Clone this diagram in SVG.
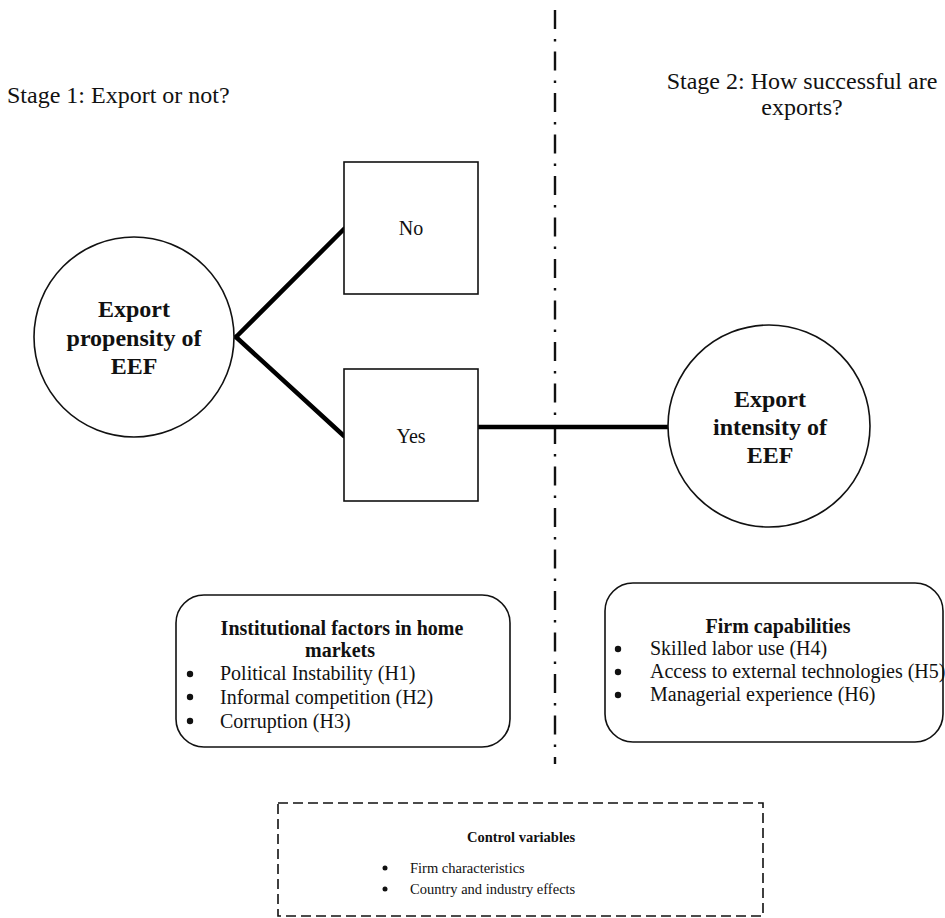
<svg xmlns="http://www.w3.org/2000/svg" width="945" height="918" viewBox="0 0 945 918">
<style>
text{font-family:"Liberation Serif","Times New Roman",serif;fill:#111}
.b{font-weight:bold}
.n{fill:#fff;stroke:#111;stroke-width:1.6}
.c{stroke:#000;stroke-width:4.5;fill:none;stroke-linecap:round}
.m{text-anchor:middle}
.dot{fill:#111}
</style>
<rect width="945" height="918" fill="#fff"/>
<line x1="555" y1="10" x2="555" y2="764" stroke="#111" stroke-width="2.4" stroke-dasharray="19 10 2.5 10"/>
<text x="7" y="103" font-size="24">Stage 1: Export or not?</text>
<text x="802" y="89" font-size="24" class="m">Stage 2: How successful are</text>
<text x="802" y="115" font-size="24" class="m">exports?</text>
<g id="connectors">
<line class="c" x1="236" y1="337" x2="344" y2="229"/>
<line class="c" x1="236" y1="337" x2="344" y2="436"/>
<line class="c" x1="478" y1="427" x2="668" y2="427"/>
</g>
<g id="propensity">
<circle class="n" cx="134" cy="337" r="100"/>
<text x="134" y="317" font-size="24" class="b m">Export</text>
<text x="134" y="346" font-size="24" class="b m">propensity of</text>
<text x="134" y="374" font-size="24" class="b m">EEF</text>
</g>
<g id="no">
<rect class="n" x="344" y="162" width="134" height="132"/>
<text x="411" y="235" font-size="20" class="m">No</text>
</g>
<g id="yes">
<rect class="n" x="344" y="369" width="134" height="132"/>
<text x="411" y="443" font-size="20" class="m">Yes</text>
</g>
<g id="intensity">
<circle class="n" cx="769" cy="426" r="101"/>
<text x="770" y="407" font-size="24" class="b m">Export</text>
<text x="770" y="435" font-size="24" class="b m">intensity of</text>
<text x="770" y="463" font-size="24" class="b m">EEF</text>
</g>
<g id="institutional">
<rect class="n" x="176" y="595" width="334" height="152" rx="28"/>
<text x="342" y="635" font-size="20" class="b m">Institutional factors in home</text>
<text x="340" y="657" font-size="20" class="b m">markets</text>
<circle class="dot" cx="190" cy="674" r="3.2"/>
<circle class="dot" cx="190" cy="697" r="3.2"/>
<circle class="dot" cx="190" cy="721" r="3.2"/>
<text x="220" y="680" font-size="20">Political Instability (H1)</text>
<text x="220" y="704" font-size="20">Informal competition (H2)</text>
<text x="220" y="728" font-size="20">Corruption (H3)</text>
</g>
<g id="capabilities">
<rect class="n" x="605" y="583" width="338" height="159" rx="28"/>
<text x="778" y="633" font-size="20" class="b m">Firm capabilities</text>
<circle class="dot" cx="618" cy="649" r="3.2"/>
<circle class="dot" cx="618" cy="672" r="3.2"/>
<circle class="dot" cx="618" cy="695" r="3.2"/>
<text x="650" y="655" font-size="20">Skilled labor use (H4)</text>
<text x="650" y="678" font-size="20">Access to external technologies (H5)</text>
<text x="650" y="701" font-size="20">Managerial experience (H6)</text>
</g>
<g id="controls">
<rect x="278" y="803" width="485" height="113" fill="none" stroke="#111" stroke-width="1.6" stroke-dasharray="10 5"/>
<text x="521" y="842" font-size="14.5" class="b m">Control variables</text>
<circle class="dot" cx="385" cy="868" r="2.5"/>
<circle class="dot" cx="385" cy="889" r="2.5"/>
<text x="410" y="873" font-size="14.5">Firm characteristics</text>
<text x="410" y="894" font-size="14.5">Country and industry effects</text>
</g>
</svg>
